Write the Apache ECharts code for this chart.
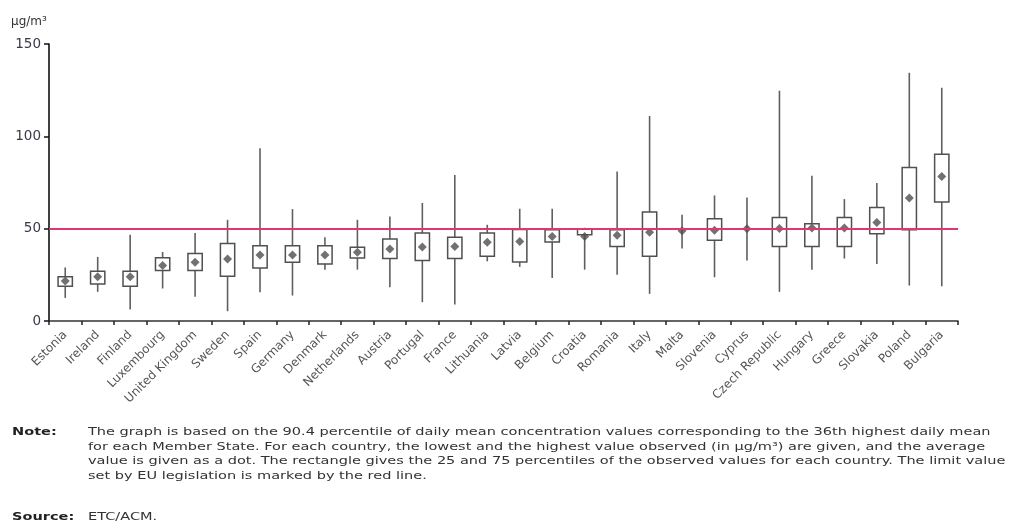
<!DOCTYPE html>
<html>
<head>
<meta charset="utf-8">
<script src="https://cdn.jsdelivr.net/npm/echarts@6/dist/echarts.min.js"></script>
<style>
  html, body { margin: 0; padding: 0; background: #fff; }
  #chart { width: 1023px; height: 529px; }
</style>
</head>
<body>
<div id="chart"></div>
<script>
// PM10, 90.4 percentile of daily mean concentrations per Member State (µg/m³)
const countries = ['Estonia', 'Ireland', 'Finland', 'Luxembourg', 'United Kingdom', 'Sweden', 'Spain',
  'Germany', 'Denmark', 'Netherlands', 'Austria', 'Portugal', 'France', 'Lithuania', 'Latvia',
  'Belgium', 'Croatia', 'Romania', 'Italy', 'Malta', 'Slovenia', 'Cyprus', 'Czech Republic',
  'Hungary', 'Greece', 'Slovakia', 'Poland', 'Bulgaria'];

const minVals = [12.5, 15.8, 6.2, 17.6, 13.1, 5.3, 15.6, 13.8, 27.8, 27.8, 18.3, 10.2, 8.9, 32.3, 29.3,
  23.3, 27.8, 25.1, 14.7, 39.2, 23.7, 32.7, 15.8, 27.8, 33.8, 30.9, 19.2, 18.8];
const q1Vals = [18.8, 20.1, 18.8, 27.4, 27.3, 24.2, 28.7, 31.8, 30.9, 34.1, 33.8, 32.8, 33.8, 35.0, 32.0,
  42.8, 46.7, 40.4, 35.0, null, 43.7, null, 40.4, 40.4, 40.4, 47.3, 49.4, 64.4];
const q3Vals = [23.9, 26.9, 26.9, 34.3, 36.5, 41.9, 40.8, 40.8, 40.8, 39.9, 44.4, 47.6, 45.3, 47.6, 49.6,
  49.4, 49.8, 49.4, 59.0, null, 55.4, null, 56.1, 52.7, 56.1, 61.5, 83.1, 90.3];
const maxVals = [29.0, 34.7, 46.7, 37.4, 47.6, 54.8, 93.6, 60.6, 45.3, 54.8, 56.6, 63.9, 79.1, 52.1, 60.8,
  60.8, 50.5, 80.9, 111.0, 57.5, 68.0, 66.9, 124.7, 78.6, 66.0, 74.7, 134.4, 126.3];
const meanVals = [21.7, 23.9, 23.9, 30.1, 31.8, 33.6, 35.8, 35.8, 35.8, 37.2, 39.0, 40.1, 40.4, 42.6, 43.1,
  45.8, 45.8, 46.4, 48.0, 48.9, 49.1, 50.0, 50.1, 50.3, 50.3, 53.4, 66.6, 78.2];

const yTicks = [0, 50, 100, 150];
const limitValue = 50;

const boxData = countries.map((c, i) => [i, minVals[i],
  q1Vals[i] == null ? '-' : q1Vals[i],
  q3Vals[i] == null ? '-' : q3Vals[i],
  maxVals[i]]);

// whisker from lowest to highest value, with a white box for the 25-75 percentile range
function renderBox(params, api) {
  const x = api.value(0);
  const lo = api.coord([x, api.value(1)]);
  const hi = api.coord([x, api.value(4)]);
  const children = [{
    type: 'line',
    shape: { x1: lo[0], y1: lo[1], x2: hi[0], y2: hi[1] },
    style: { stroke: '#5f5f5f', lineWidth: 1.6 }
  }];
  const v1 = api.value(2), v3 = api.value(3);
  if (!isNaN(v1) && !isNaN(v3)) {
    const b1 = api.coord([x, v1]);
    const b3 = api.coord([x, v3]);
    const w = api.size([1, 0])[0] * 0.44;
    children.push({
      type: 'rect',
      shape: { x: b1[0] - w / 2, y: b3[1], width: w, height: b1[1] - b3[1] },
      style: { fill: '#fff', stroke: '#505050', lineWidth: 1.5 }
    });
  }
  return { type: 'group', children };
}

const noteLines = [
  'The graph is based on the 90.4 percentile of daily mean concentration values corresponding to the 36th highest daily mean',
  'for each Member State. For each country, the lowest and the highest value observed (in µg/m³) are given, and the average',
  'value is given as a dot. The rectangle gives the 25 and 75 percentiles of the observed values for each country. The limit value',
  'set by EU legislation is marked by the red line.'
];

const textFont = 'DejaVu Sans, Verdana, sans-serif';
const noteScale = 1.32;

function noteText(x, y, text, bold) {
  return {
    type: 'text', x: x, y: y, scaleX: noteScale,
    style: { text: text, font: (bold ? 'bold ' : '') + '11px ' + textFont, fill: bold ? '#222' : '#333',
      align: 'left', verticalAlign: 'top' }
  };
}

const chart = echarts.init(document.getElementById('chart'));
chart.setOption({
  animation: false,
  backgroundColor: '#fff',
  grid: { left: 49, right: 65, top: 44, bottom: 208 },
  xAxis: {
    type: 'category',
    data: countries,
    boundaryGap: true,
    axisLine: { lineStyle: { color: '#333', width: 1.5 } },
    axisTick: { show: true, length: 4, lineStyle: { color: '#222', width: 1.5 } },
    axisLabel: { rotate: 45, fontSize: 12, color: '#555', fontFamily: textFont, margin: 12, interval: 0 },
    splitLine: { show: false }
  },
  yAxis: {
    type: 'value',
    min: yTicks[0],
    max: yTicks[yTicks.length - 1],
    interval: 50,
    name: 'µg/m³',
    nameLocation: 'end',
    nameGap: 16,
    nameTextStyle: { fontSize: 12, color: '#333', fontFamily: textFont, align: 'left', padding: [0, 0, 0, -38] },
    axisLine: { show: true, lineStyle: { color: '#111', width: 1.6 } },
    axisTick: { show: true, length: 5, lineStyle: { color: '#111', width: 1.5 } },
    axisLabel: { fontSize: 13.5, color: '#3a3a4a', fontFamily: textFont, margin: 8 },
    splitLine: { show: false }
  },
  series: [
    {
      type: 'custom',
      renderItem: renderBox,
      encode: { x: 0, y: [1, 2, 3, 4] },
      data: boxData,
      z: 2
    },
    {
      type: 'scatter',
      data: meanVals,
      symbol: 'diamond',
      symbolSize: 9,
      itemStyle: { color: '#4d4d4d' },
      z: 3,
      markLine: {
        silent: true,
        symbol: 'none',
        label: { show: false },
        lineStyle: { color: '#e3366b', width: 2, type: 'solid' },
        data: [{ yAxis: limitValue }],
        z: 4
      }
    }
  ],
  graphic: [
    noteText(12, 427, 'Note:', true),
    ...noteLines.map((t, i) => noteText(88, 427 + i * 14.5, t, false)),
    noteText(12, 512, 'Source:', true),
    noteText(88, 512, 'ETC/ACM.', false)
  ]
});
</script>
</body>
</html>
